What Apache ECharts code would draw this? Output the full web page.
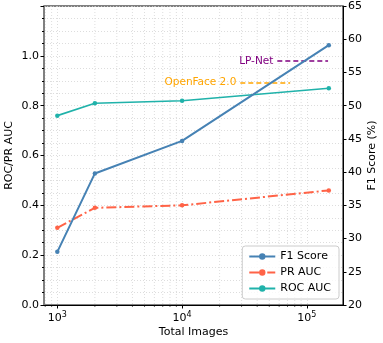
<!DOCTYPE html>
<html>
<head>
<meta charset="utf-8">
<script src="https://cdn.jsdelivr.net/npm/echarts@6/dist/echarts.min.js"></script>
<style>
  html, body { margin: 0; padding: 0; background: #fff; }
  #main { width: 383px; height: 343px; }
</style>
</head>
<body>
<div id="main"></div>
<script>
// dataset sizes (x) and scores
var totalImages = [1000, 2000, 10000, 150000];
var f1Score = [28, 39.8, 44.7, 59.1];
var prAuc = [0.31, 0.39, 0.40, 0.46];
var rocAuc = [0.76, 0.81, 0.82, 0.87];

// reference baselines drawn as dashed segments (F1 axis)
var baseNames = ['LP-Net', 'OpenFace 2.0'];
var baseValues = [56.7, 53.5];
var baseFrom = [58000, 29300];
var baseTo = [148000, 73500];
var baseColors = ['#800080', '#ffa500'];

// minor log ticks
var minorX = [800, 900, 2000, 3000, 4000, 5000, 6000, 7000, 8000, 9000,
  20000, 30000, 40000, 50000, 60000, 70000, 80000, 90000];

var font = 'DejaVu Sans';
var gridColor = '#d4d4d4';

function pairs(ys) {
    return totalImages.map(function (x, i) { return [x, ys[i]]; });
}

var myChart = echarts.init(document.getElementById('main'));

function renderMinor(params, api) {
    var x = api.value(0);
    var top = api.coord([x, 1.2]);
    var bottom = api.coord([x, 0]);
    return {
        type: 'group',
        children: [{
            type: 'line',
            shape: {x1: top[0], y1: top[1], x2: bottom[0], y2: bottom[1]},
            style: {stroke: gridColor, lineWidth: 0.8, lineDash: [1, 2]}
        }, {
            type: 'line',
            shape: {x1: bottom[0], y1: bottom[1], x2: bottom[0], y2: bottom[1] + 2},
            style: {stroke: '#000', lineWidth: 0.6}
        }]
    };
}

var markData = baseNames.map(function (n, i) {
    return [{
        coord: [baseFrom[i], baseValues[i]],
        name: n,
        lineStyle: {color: baseColors[i], type: [5, 3], width: 1.6},
        label: {show: true, position: 'start', formatter: n, color: baseColors[i],
            fontFamily: font, fontSize: 10.5, distance: 4}
    }, {
        coord: [baseTo[i], baseValues[i]]
    }];
});

var option = {
    animation: false,
    textStyle: {fontFamily: font},
    grid: {left: 44, right: 40, top: 6, bottom: 38, show: true,
        outerBoundsMode: 'none', containLabel: false,
        borderColor: '#000', borderWidth: 1, backgroundColor: 'transparent'},
    legend: {
        orient: 'vertical',
        right: 44,
        bottom: 44,
        itemWidth: 26,
        itemHeight: 8,
        itemGap: 5,
        padding: [5, 8, 5, 6],
        borderColor: '#cccccc',
        borderWidth: 1,
        borderRadius: 3,
        backgroundColor: 'rgba(255,255,255,0.8)',
        textStyle: {fontFamily: font, fontSize: 11, color: '#000'},
        data: ['F1 Score', 'PR AUC', 'ROC AUC']
    },
    xAxis: {
        type: 'log',
        logBase: 10,
        min: 782,
        max: 195000,
        name: 'Total Images',
        nameLocation: 'middle',
        nameGap: 22,
        nameMoveOverlap: false,
        nameTextStyle: {fontFamily: font, fontSize: 11, color: '#000'},
        axisLine: {lineStyle: {color: '#000', width: 1}},
        axisTick: {length: 3.5, lineStyle: {color: '#000'}},
        splitLine: {show: true, lineStyle: {color: gridColor, type: [1, 2], width: 0.8}},
        axisLabel: {
            showMinLabel: false,
            showMaxLabel: false,
            margin: 6,
            formatter: function (v) {
                var e = Math.round(Math.log10(v));
                if (Math.abs(Math.pow(10, e) - v) > 1e-6 * v) return '';
                return '{b|10}{s|' + e + '}';
            },
            rich: {
                b: {fontFamily: font, fontSize: 11, color: '#000'},
                s: {fontFamily: font, fontSize: 8, color: '#000', padding: [0, 0, 7, 0]}
            }
        }
    },
    yAxis: [{
        type: 'value',
        min: 0,
        max: 1.2,
        interval: 0.2,
        name: 'ROC/PR AUC',
        nameLocation: 'middle',
        nameGap: 29,
        nameMoveOverlap: false,
        nameTextStyle: {fontFamily: font, fontSize: 11, color: '#000'},
        axisLine: {show: true, lineStyle: {color: '#808080', width: 2}},
        axisTick: {show: true, length: 3.5, lineStyle: {color: '#000'}},
        minorTick: {show: true, splitNumber: 4, length: 2, lineStyle: {color: '#000'}},
        splitLine: {show: true, lineStyle: {color: gridColor, type: [1, 2], width: 0.8}},
        minorSplitLine: {show: true, lineStyle: {color: gridColor, type: [1, 2], width: 0.8}},
        axisLabel: {
            color: '#000', fontSize: 11, margin: 5,
            formatter: function (v) { return v > 1.1 ? '' : v.toFixed(1); }
        }
    }, {
        type: 'value',
        min: 20,
        max: 65,
        interval: 5,
        position: 'right',
        name: 'F1 Score (%)',
        nameLocation: 'middle',
        nameGap: 24,
        nameRotate: 90,
        nameMoveOverlap: false,
        nameTextStyle: {fontFamily: font, fontSize: 11, color: '#000'},
        axisLine: {show: true, lineStyle: {color: '#000', width: 1}},
        axisTick: {show: true, length: 3.5, lineStyle: {color: '#000'}},
        splitLine: {show: false},
        axisLabel: {color: '#000', fontSize: 11, margin: 5}
    }],
    series: [{
        name: 'minor',
        type: 'custom',
        renderItem: renderMinor,
        silent: true,
        z: 0,
        data: minorX.map(function (x) { return [x, 0]; })
    }, {
        name: 'F1 Score',
        type: 'line',
        yAxisIndex: 1,
        data: pairs(f1Score),
        symbol: 'circle',
        symbolSize: 4.5,
        color: '#4682b4',
        lineStyle: {width: 2},
        z: 5,
        markLine: {
            symbol: 'none',
            silent: true,
            data: markData
        }
    }, {
        name: 'PR AUC',
        type: 'line',
        yAxisIndex: 0,
        data: pairs(prAuc),
        symbol: 'circle',
        symbolSize: 4.5,
        color: '#ff6347',
        lineStyle: {width: 2, type: [10, 3, 2, 3]}
    }, {
        name: 'ROC AUC',
        type: 'line',
        yAxisIndex: 0,
        data: pairs(rocAuc),
        symbol: 'circle',
        symbolSize: 4.5,
        color: '#20b2aa',
        lineStyle: {width: 1.6}
    }]
};
myChart.setOption(option);
</script>
</body>
</html>
